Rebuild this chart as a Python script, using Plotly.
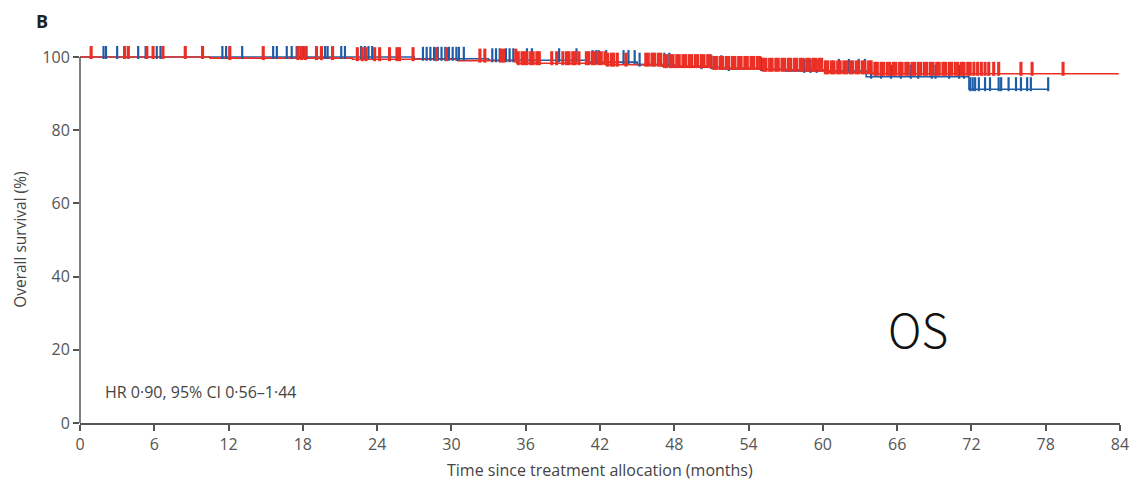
import numpy as np
import plotly.graph_objects as go

# ---------------- data ----------------
x_ticks = [0, 6, 12, 18, 24, 30, 36, 42, 48, 54, 60, 66, 72, 78, 84]
y_ticks = [0, 20, 40, 60, 80, 100]

# Kaplan-Meier steps: event times (months) and survival (%) after each step
red_times = [0, 10.5, 22.0, 30.5, 35.3, 42.5, 47.0, 51.0, 55.0, 60.2, 64.0]
red_surv = [100, 99.7, 99.4, 99.0, 98.3, 97.9, 97.5, 97.0, 96.5, 95.8, 95.4]
red_end = 83.9

blue_times = [0, 27.0, 33.0, 41.0, 45.0, 48.0, 52.0, 57.0, 63.5, 71.8]
blue_surv = [100, 99.5, 99.1, 98.6, 97.9, 97.2, 96.7, 96.2, 94.6, 91.2]
blue_end = 78.2

red_censor = [
    0.9, 3.6, 3.9, 5.4, 5.9, 6.7, 8.5, 9.9, 12.1, 14.8, 17.6, 17.9, 18.2,
    19.1, 19.5, 20.4, 22.4, 22.8, 23.1, 23.8, 24.2, 25.0, 25.6, 25.8, 26.9,
    28.8, 29.6, 32.3, 32.7, 34.0, 34.2,
    35.2, 35.4, 35.7, 35.9, 36.1, 36.4, 36.6, 36.9, 37.1, 38.1, 38.5,
    39.0, 39.3, 39.5, 39.8, 40.0, 40.3,
    40.9, 41.1, 41.4, 41.6, 41.9, 42.1, 42.4, 42.6, 42.9, 43.1, 43.4, 44.1,
    45.7, 45.9, 46.2, 46.4, 46.7, 46.9, 47.2, 47.4, 47.7, 47.9, 48.2, 48.4,
    48.7, 48.9, 49.2, 49.4, 49.7, 49.9, 50.2, 50.4, 50.7, 50.9, 51.2, 51.4,
    51.7, 51.9, 52.2, 52.4, 52.7, 52.9, 53.2, 53.4, 53.7, 53.9, 54.2, 54.4,
    54.7, 54.9, 55.2, 55.4, 55.7, 55.9, 56.2, 56.4, 56.7, 56.9, 57.2, 57.4,
    57.7, 57.9, 58.2, 58.4, 58.7, 58.9, 59.2, 59.4, 59.7, 59.9, 60.2, 60.4,
    60.7, 60.9, 61.2, 61.4, 61.7, 61.9, 62.2, 62.4, 62.7, 62.9, 63.2, 63.4,
    63.7, 63.9, 64.2, 64.4, 64.7, 64.9, 65.2, 65.4, 65.7, 65.9, 66.2, 66.4,
    66.7, 66.9, 67.2, 67.4, 67.7, 67.9, 68.2, 68.4, 68.7, 68.9, 69.2, 69.4,
    69.7, 69.9, 70.2, 70.4, 70.7, 70.9, 71.2, 71.4, 71.7, 71.9, 72.2, 72.5,
    72.8, 73.1, 73.4, 73.8, 74.2, 76.0, 76.9, 79.4,
]

blue_censor = [
    1.9, 2.1, 3.0, 3.9, 4.7, 5.3, 6.2, 6.5, 8.5, 11.5, 11.8, 12.1, 13.1,
    15.6, 15.9, 16.7, 17.1, 17.5, 17.8, 18.0, 18.3, 19.8, 20.0, 21.1, 21.4,
    22.7, 23.0, 23.3, 23.6, 27.7, 28.0, 28.3, 28.6, 28.9, 29.2, 29.5, 29.8,
    30.1, 30.4, 30.6, 31.0, 33.3, 33.6, 33.9, 34.4, 34.7, 35.0, 36.1, 36.5,
    38.7, 40.1, 41.4, 41.7, 41.9, 42.5, 43.9, 44.3, 44.8, 45.2, 47.2, 47.6,
    50.2, 51.0, 51.8, 52.4, 55.0, 58.5, 59.0, 59.5, 61.3, 62.1, 62.9, 63.4,
    63.9, 64.7, 65.5, 66.3, 67.1, 67.7, 68.8, 69.1, 70.2, 71.0, 71.4,
    71.9, 72.1, 72.3, 72.6, 73.1, 73.5, 74.2, 74.4, 75.0, 75.6, 76.0, 76.5,
    76.8, 78.2,
]

RED = "#ec2f25"
BLUE = "#1f5ca6"
AXIS = "#555555"
FONT = "Open Sans"
Y_TOP = 103  # headroom so censor ticks above 100 remain visible


def surv_at(times, surv, t):
    idx = np.searchsorted(np.asarray(times), np.asarray(t), side="right") - 1
    return np.asarray(surv)[idx]


TICK_PX = 10
PX_PER_UNIT = 3.66
lift = (TICK_PX / 2) / PX_PER_UNIT

fig = go.Figure()

for times, surv, end, col in [(blue_times, blue_surv, blue_end, BLUE),
                              (red_times, red_surv, red_end, RED)]:
    fig.add_trace(go.Scatter(
        x=list(times) + [end], y=list(surv) + [surv[-1]],
        mode="lines", line=dict(color=col, width=1.6, shape="hv"),
        hoverinfo="skip", showlegend=False))

for cens, times, surv, col, w in [(blue_censor, blue_times, blue_surv, BLUE, 2.2),
                                  (red_censor, red_times, red_surv, RED, 3.1)]:
    yv = surv_at(times, surv, cens) + lift
    fig.add_trace(go.Scatter(
        x=cens, y=yv, mode="markers",
        marker=dict(symbol="line-ns", size=TICK_PX,
                    line=dict(color=col, width=w)),
        hoverinfo="skip", showlegend=False))

fig.add_shape(type="line", xref="paper", yref="y", x0=0, x1=0, y0=0, y1=100,
              line=dict(color=AXIS, width=1.5), layer="above")

fig.update_layout(
    width=1141, height=482,
    margin=dict(l=80, r=19, t=46, b=59),
    paper_bgcolor="white", plot_bgcolor="white",
    font=dict(family=FONT, color="#444444", size=16),
    xaxis=dict(range=[0, 84], tickvals=x_ticks, ticktext=[str(v) for v in x_ticks],
               showgrid=False, zeroline=False, showline=True, linecolor=AXIS,
               linewidth=1.5, ticks="outside", ticklen=6, tickcolor=AXIS,
               tickwidth=1.5, tickfont=dict(size=16, color="#555555")),
    yaxis=dict(range=[0, Y_TOP], tickvals=y_ticks, ticktext=[str(v) for v in y_ticks],
               showgrid=False, zeroline=False, showline=False,
               ticks="outside", ticklen=6, tickcolor=AXIS,
               tickwidth=1.5, tickfont=dict(size=16, color="#555555")),
    annotations=[
        dict(text="Time since treatment allocation (months)", x=0.5, y=-0.125,
             xref="paper", yref="paper", xanchor="center", yanchor="middle",
             showarrow=False, font=dict(size=16, color="#444444")),
        dict(text="Overall survival (%)", x=-0.0576, y=0.486, textangle=-90,
             xref="paper", yref="paper", xanchor="center", yanchor="middle",
             showarrow=False, font=dict(size=15.5, color="#444444")),
        dict(text="<b>B</b>", x=-0.0365, y=1.066, xref="paper", yref="paper",
             xanchor="center", yanchor="middle", showarrow=False,
             font=dict(size=18, color="#222222")),
        dict(text="HR 0·90, 95% CI 0·56–1·44", x=0.022, y=0.082,
             xref="paper", yref="paper", xanchor="left", yanchor="middle",
             showarrow=False, font=dict(size=16, color="#444444")),
        dict(text="OS", x=0.806, y=0.252, xref="paper", yref="paper",
             xanchor="center", yanchor="middle", showarrow=False,
             font=dict(size=46, color="#111111", family="Noto Sans CJK SC",
                       weight=300)),
    ],
)

fig.write_html("out.html")
